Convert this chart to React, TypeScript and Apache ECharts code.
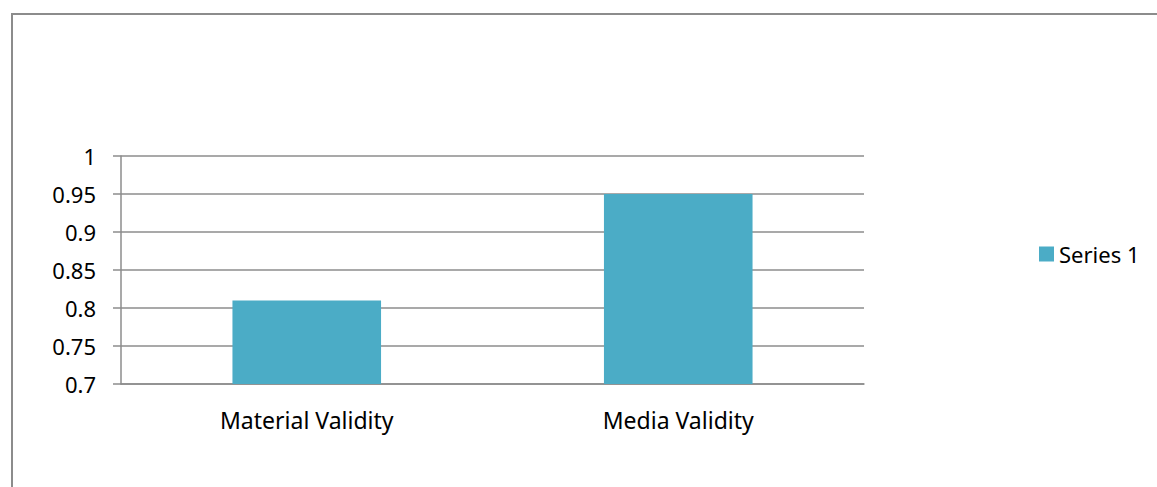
import React, { useEffect, useRef } from "react";
import * as echarts from "echarts";

const categories = ["Material Validity", "Media Validity"];
const seriesName = "Series 1";
const seriesValues = [0.81, 0.95];
const yMin = 0.7;
const yMax = 1;
const yInterval = 0.05;

export default function App() {
  const ref = useRef<HTMLDivElement>(null);
  useEffect(() => {
    document.body.style.margin = "0";
    const chart = echarts.init(ref.current!, null, { renderer: "svg" });
    const font = "'Noto Sans', 'Open Sans', sans-serif";
    const axisColor = "#8c8c8c";
    chart.setOption({
      animation: false,
      backgroundColor: "#ffffff",
      textStyle: { fontFamily: font },
      graphic: [
        {
          type: "rect",
          shape: { x: 12, y: 14, width: 1200, height: 520 },
          style: { fill: "none", stroke: axisColor, lineWidth: 2 },
          silent: true,
        },
      ],
      legend: {
        orient: "vertical",
        left: 1039,
        top: 243,
        padding: 0,
        itemWidth: 15,
        itemHeight: 15,
        itemGap: 5,
        icon: "rect",
        textStyle: { fontSize: 22, color: "#000", fontFamily: font },
        data: [seriesName],
      },
      grid: { left: 121, right: 293, top: 156, bottom: 103, containLabel: false },
      xAxis: {
        type: "category",
        data: categories,
        axisLine: { lineStyle: { color: axisColor, width: 1.5 } },
        axisTick: { length: 8, lineStyle: { color: axisColor, width: 1.5 } },
        axisLabel: { color: "#000", fontSize: 23, margin: 24, fontFamily: font },
      },
      yAxis: {
        type: "value",
        min: yMin,
        max: yMax,
        interval: yInterval,
        axisLine: { show: true, lineStyle: { color: axisColor, width: 1.5 } },
        axisTick: { show: true, length: 8, lineStyle: { color: axisColor, width: 1.5 } },
        splitLine: { show: true, lineStyle: { color: axisColor, width: 1.5 } },
        axisLabel: {
          color: "#000",
          fontSize: 22,
          margin: 25,
          fontFamily: font,
          formatter: (v: number) => String(parseFloat(v.toFixed(2))),
        },
      },
      series: [
        {
          name: seriesName,
          type: "bar",
          data: seriesValues,
          barWidth: "40%",
          itemStyle: { color: "#4BACC6" },
        },
      ],
    });
    return () => chart.dispose();
  }, []);
  return <div ref={ref} style={{ width: 1157, height: 487 }} />;
}
